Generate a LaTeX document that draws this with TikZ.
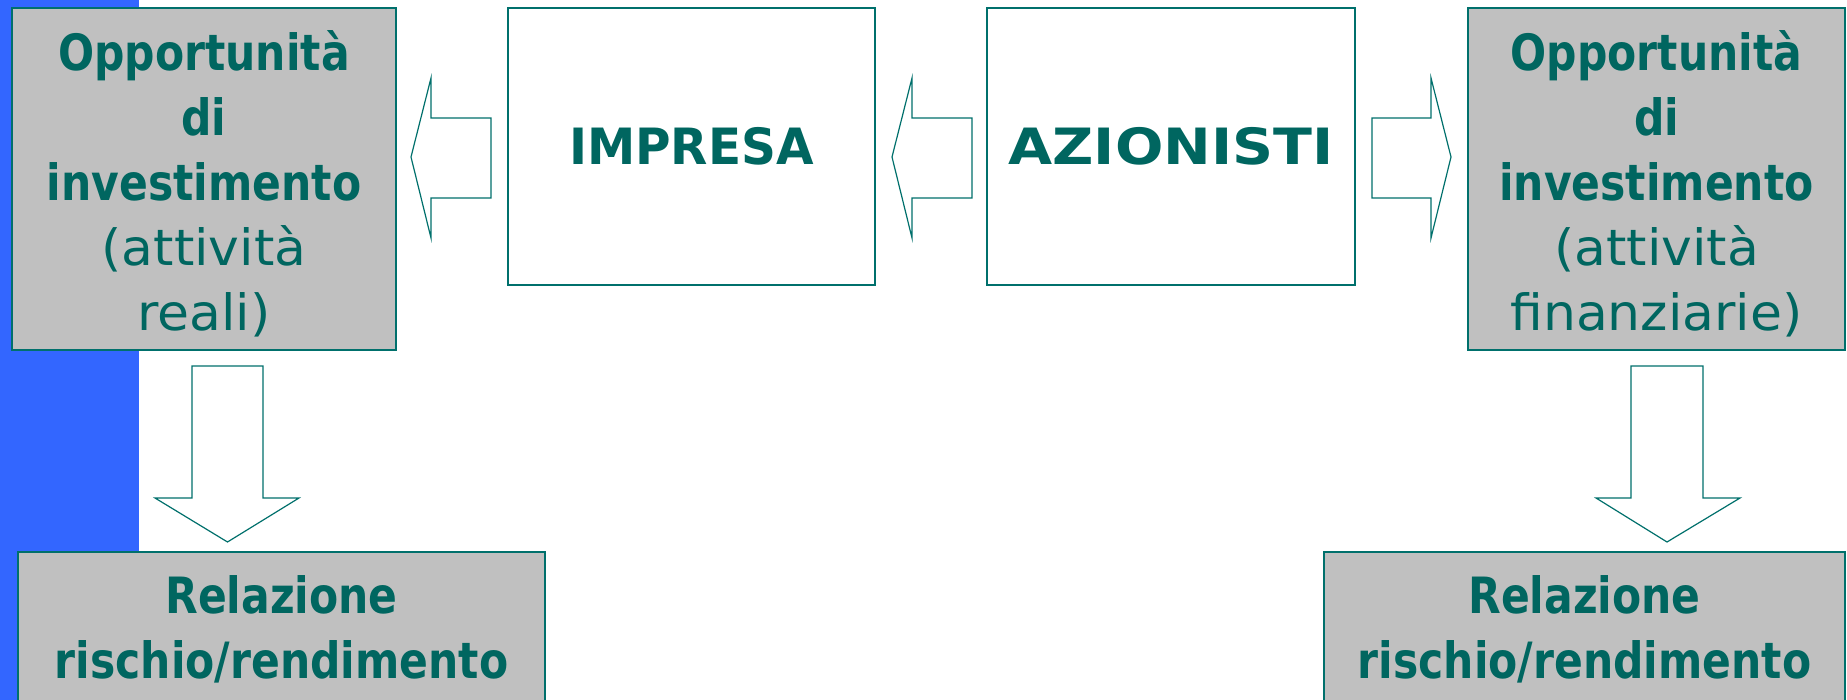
\documentclass[tikz,border=0pt]{standalone}
\usepackage{fontspec}
\newfontfamily\comicb[FakeStretch=0.85]{DejaVu Sans Bold}
\newfontfamily\comiccapsa[FakeStretch=0.97]{DejaVu Sans Bold}
\newfontfamily\comiccapsb[FakeStretch=1.14]{DejaVu Sans Bold}
\newfontfamily\comicr[FakeStretch=1.04]{DejaVu Sans}
\definecolor{teal1}{HTML}{006660}
\definecolor{teal2}{HTML}{00706C}
\definecolor{gray1}{HTML}{C0C0C0}
\definecolor{blue1}{HTML}{3366FF}
\tikzset{
  graybox/.style={draw=teal2, fill=gray1, line width=1.5pt, inner sep=0pt, align=center, text=teal1,
    font=\comicb\fontsize{50}{65}\selectfont},
  whitebox/.style={draw=teal2, fill=white, line width=1.5pt, inner sep=0pt, align=center, text=teal1},
  boxtext/.style={align=center, text=teal1, font=\comicb\fontsize{50}{65}\selectfont, inner sep=0pt},
  blockarrow/.style={draw=teal2, fill=white, line width=1.2pt, line join=miter}
}
\begin{document}
\begin{tikzpicture}[x=1pt,y=-1pt]
\useasboundingbox (0,0) rectangle (1847,700);
\clip (0,0) rectangle (1847,700);
\fill[white] (0,0) rectangle (1847,700);
\fill[blue1] (0,0) rectangle (139,700);

\node[graybox, minimum width=384pt, minimum height=342pt] (oppL) at (204,179) {};
\node[boxtext] (oppLt) at (204,184)
  {Opportunità\\di\\investimento\\{\comicr (attività}\\{\comicr reali)}};
\node[whitebox, minimum width=367pt, minimum height=277pt, font=\comiccapsa\fontsize{50}{65}\selectfont] (imp) at (691.5,146.5) {IMPRESA};
\node[whitebox, minimum width=368pt, minimum height=277pt, font=\comiccapsb\fontsize{50}{65}\selectfont] (az) at (1171,146.5) {AZIONISTI};
\node[graybox, minimum width=377pt, minimum height=342pt] (oppR) at (1656.5,179) {};
\node[boxtext] (oppRt) at (1656.5,184)
  {Opportunità\\di\\investimento\\{\comicr (attività}\\{\comicr finanziarie)}};
\node[graybox, minimum width=527pt, minimum height=155pt] (relL) at (281.5,629.5)
  {Relazione\\rischio/rendimento};
\node[graybox, minimum width=521pt, minimum height=155pt] (relR) at (1584.5,629.5)
  {Relazione\\rischio/rendimento};

% block arrows
\draw[blockarrow] (411,157) -- (431,78) -- (431,118) -- (491,118) -- (491,198) -- (431,198) -- (431,238) -- cycle;
\draw[blockarrow] (892,157) -- (912,78) -- (912,118) -- (972,118) -- (972,198) -- (912,198) -- (912,238) -- cycle;
\draw[blockarrow] (1372,118) -- (1431,118) -- (1431,78) -- (1451,157) -- (1431,238) -- (1431,198) -- (1372,198) -- cycle;
\draw[blockarrow] (192,366) -- (263,366) -- (263,498) -- (299,498) -- (227.5,542) -- (155,498) -- (192,498) -- cycle;
\draw[blockarrow] (1631,366) -- (1703,366) -- (1703,498) -- (1740,498) -- (1667,542) -- (1596,498) -- (1631,498) -- cycle;
\end{tikzpicture}
\end{document}
